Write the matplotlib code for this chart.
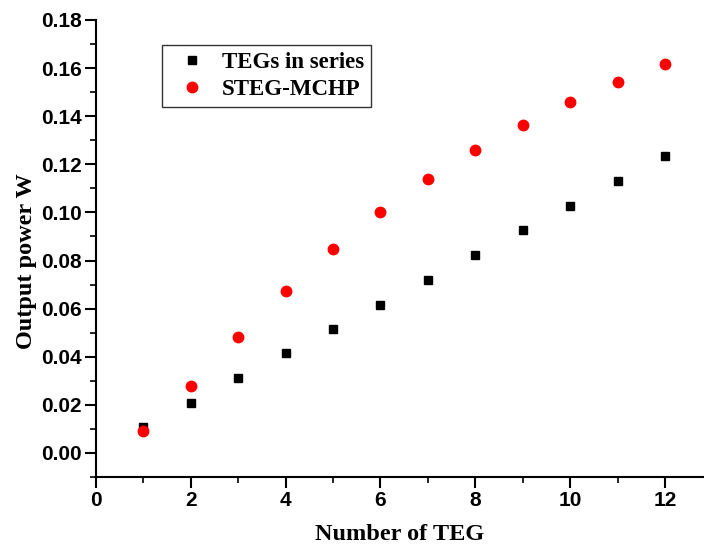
import numpy as np
import matplotlib.pyplot as plt
from matplotlib.ticker import MultipleLocator, FormatStrFormatter

# Data
n_teg = [1, 2, 3, 4, 5, 6, 7, 8, 9, 10, 11, 12]
series_power = [0.0107, 0.0207, 0.0311, 0.0414, 0.0515, 0.0617,
                0.0721, 0.0822, 0.0925, 0.1028, 0.1130, 0.1233]
steg_power = [0.0093, 0.0279, 0.0480, 0.0672, 0.0846, 0.1001,
              0.1138, 0.1260, 0.1365, 0.1460, 0.1543, 0.1617]

fig = plt.figure(figsize=(7.04, 5.46), dpi=100)
ax = fig.add_axes([0.1364, 0.1264, 0.862, 0.837])

ax.plot(n_teg, series_power, 's', color='black', markersize=6, label='TEGs in series', clip_on=False)
ax.plot(n_teg, steg_power, 'o', color='red', markersize=7.5, label='STEG-MCHP', clip_on=False)

ax.set_xlim(0, 12.8)
ax.set_ylim(-0.01, 0.18)
ax.xaxis.set_major_locator(MultipleLocator(2))
ax.xaxis.set_minor_locator(MultipleLocator(1))
ax.yaxis.set_major_locator(MultipleLocator(0.02))
ax.yaxis.set_minor_locator(MultipleLocator(0.01))
ax.yaxis.set_major_formatter(FormatStrFormatter('%.2f'))

for s in ['top', 'right']:
    ax.spines[s].set_visible(False)
for s in ['left', 'bottom']:
    ax.spines[s].set_linewidth(1.5)

ax.tick_params(which='major', direction='out', length=8, width=1.5, pad=2)
ax.tick_params(which='minor', direction='out', length=4.5, width=1.2)
for lab in ax.get_xticklabels() + ax.get_yticklabels():
    lab.set_fontfamily('Liberation Sans')
    lab.set_fontweight('bold')
    lab.set_fontsize(15)

ax.set_xlabel('Number of TEG', family='Liberation Serif', fontweight='bold', fontsize=17.5, labelpad=10)
ax.set_ylabel('Output power W', family='Liberation Serif', fontweight='bold', fontsize=17.5, labelpad=3, y=0.473)

leg = ax.legend(loc='upper left', bbox_to_anchor=(0.109, 0.945), frameon=True, fancybox=False,
                prop={'family': 'Liberation Serif', 'weight': 'bold', 'size': 16.5},
                handlelength=2.0, handletextpad=0.3, borderpad=0.3, labelspacing=0.25,
                borderaxespad=0)
leg.get_frame().set_edgecolor('black')
leg.get_frame().set_linewidth(1.0)

plt.savefig('out.png', dpi=100)
